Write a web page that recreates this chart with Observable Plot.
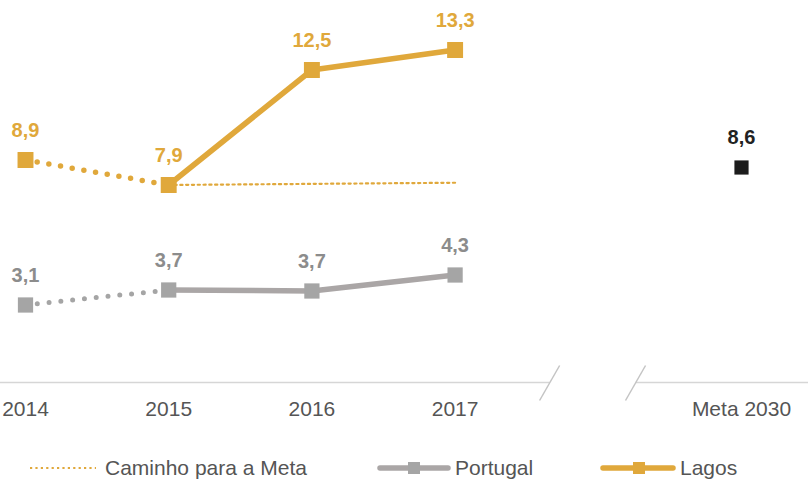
<!DOCTYPE html>
<html>
<head>
<meta charset="utf-8">
<script src="https://cdn.jsdelivr.net/npm/d3@7"></script>
<script src="https://cdn.jsdelivr.net/npm/@observablehq/plot@0.6"></script>
<style>
  body { margin: 0; background: #fff; font-family: "Liberation Sans", Arial, sans-serif; }
  #chart { width: 808px; }
  .legend { position: relative; width: 808px; height: 42px; color: #555; font-size: 21px; }
  .legend .item { position: absolute; top: 0; height: 55px; display: flex; align-items: center; }
  .legend svg { display: block; }
</style>
</head>
<body>
<div id="chart"></div>
<script>
// ---- data ----
const categories = ["2014", "2015", "2016", "2017", "Meta 2030"];
const categoryIndex = [0, 1, 2, 3, 5];
const lagosValues = [8.9, 7.9, 12.5, 13.3];
const portugalValues = [3.1, 3.7, 3.66, 4.3];
const caminhoIndex = [1, 3];
const caminhoValues = [7.9, 7.99];
const metaValue = 8.6;
const axisSegments = [[-0.2, 3.66], [4.26, 5.5]];
const axisBreaks = [3.66, 4.26];

const LAGOS = "#E0A83B";
const PORT = "#AAA6A6";
const PORT_MARK = "#A5A5A5";
const fmt = v => d3.format(".1f")(v).replace(".", ",");

const lagos = lagosValues.map((v, i) => ({x: categoryIndex[i], v}));
const portugal = portugalValues.map((v, i) => ({x: categoryIndex[i], v}));
const caminho = caminhoValues.map((v, i) => ({x: caminhoIndex[i], v}));
const meta = [{x: categoryIndex[4], v: metaValue}];

const chart = Plot.plot({
  width: 808,
  height: 440,
  marginLeft: 25,
  marginRight: 67,
  marginTop: 7,
  marginBottom: 58,
  style: {fontFamily: '"Liberation Sans", Arial, sans-serif', fontSize: "21px", color: "#555", background: "#fff"},
  x: {type: "linear", domain: [0, 5]},
  y: {domain: [0, 15], axis: null},
  marks: [
    Plot.axisX({ticks: categoryIndex, tickFormat: d => categories[categoryIndex.indexOf(d)], tickSize: 0, tickPadding: 19, label: null, fontSize: 21}),
    Plot.link(axisSegments, {x1: d => d[0], x2: d => d[1], y1: 0, y2: 0, stroke: "#d6d6d6", strokeWidth: 1.5}),
    Plot.link(axisBreaks, {x1: d => d - 0.07, x2: d => d + 0.07, y1: -0.72, y2: 0.68, stroke: "#c4c4c4", strokeWidth: 1.5}),
    // path to target
    Plot.line(caminho, {x: "x", y: "v", stroke: LAGOS, strokeWidth: 2.2, strokeDasharray: "2.2 3.6"}),
    // dotted segments
    Plot.line(portugal.slice(0, 2), {x: "x", y: "v", stroke: PORT_MARK, strokeWidth: 5, strokeDasharray: "0 11.85", strokeLinecap: "round"}),
    Plot.line(lagos.slice(0, 2), {x: "x", y: "v", stroke: LAGOS, strokeWidth: 5.5, strokeDasharray: "0 11.85", strokeLinecap: "round"}),
    // solid segments
    Plot.line(portugal.slice(1), {x: "x", y: "v", stroke: PORT, strokeWidth: 5.5}),
    Plot.line(lagos.slice(1), {x: "x", y: "v", stroke: LAGOS, strokeWidth: 5.5}),
    // markers
    Plot.dot(portugal, {x: "x", y: "v", symbol: "square", r: 8.6, fill: PORT_MARK, stroke: null}),
    Plot.dot(lagos, {x: "x", y: "v", symbol: "square", r: 9, fill: LAGOS, stroke: null}),
    Plot.dot(meta, {x: "x", y: "v", symbol: "square", r: 8, fill: "#1c1c1c", stroke: null}),
    // labels
    Plot.text(portugal, {x: "x", y: "v", text: d => fmt(d.v), dy: -29, fill: "#8c8c8c", fontWeight: "bold", fontSize: 20}),
    Plot.text(lagos, {x: "x", y: "v", text: d => fmt(d.v), dy: -29, fill: LAGOS, fontWeight: "bold", fontSize: 20}),
    Plot.text(meta, {x: "x", y: "v", text: d => fmt(d.v), dy: -30, fill: "#222", fontWeight: "bold", fontSize: 20})
  ]
});
document.getElementById("chart").appendChild(chart);

// ---- legend ----
const legend = document.createElement("div");
legend.className = "legend";
legend.innerHTML = `
  <div class="item" style="left:28px">
    <svg width="70" height="10"><line x1="2" y1="5" x2="68" y2="5" stroke="${LAGOS}" stroke-width="2.2" stroke-dasharray="2.2 3.2"/></svg>
    <span style="margin-left:7px">Caminho para a Meta</span>
  </div>
  <div class="item" style="left:376px">
    <svg width="76" height="16"><line x1="4" y1="8" x2="72" y2="8" stroke="${PORT}" stroke-width="5.5" stroke-linecap="round"/><rect x="32" y="2" width="12" height="12" fill="${PORT_MARK}"/></svg>
    <span style="margin-left:3px">Portugal</span>
  </div>
  <div class="item" style="left:599px">
    <svg width="78" height="16"><line x1="4" y1="8" x2="74" y2="8" stroke="${LAGOS}" stroke-width="5.5" stroke-linecap="round"/><rect x="34" y="2" width="12" height="12" fill="${LAGOS}"/></svg>
    <span style="margin-left:3px">Lagos</span>
  </div>`;
document.getElementById("chart").appendChild(legend);
</script>
</body>
</html>
